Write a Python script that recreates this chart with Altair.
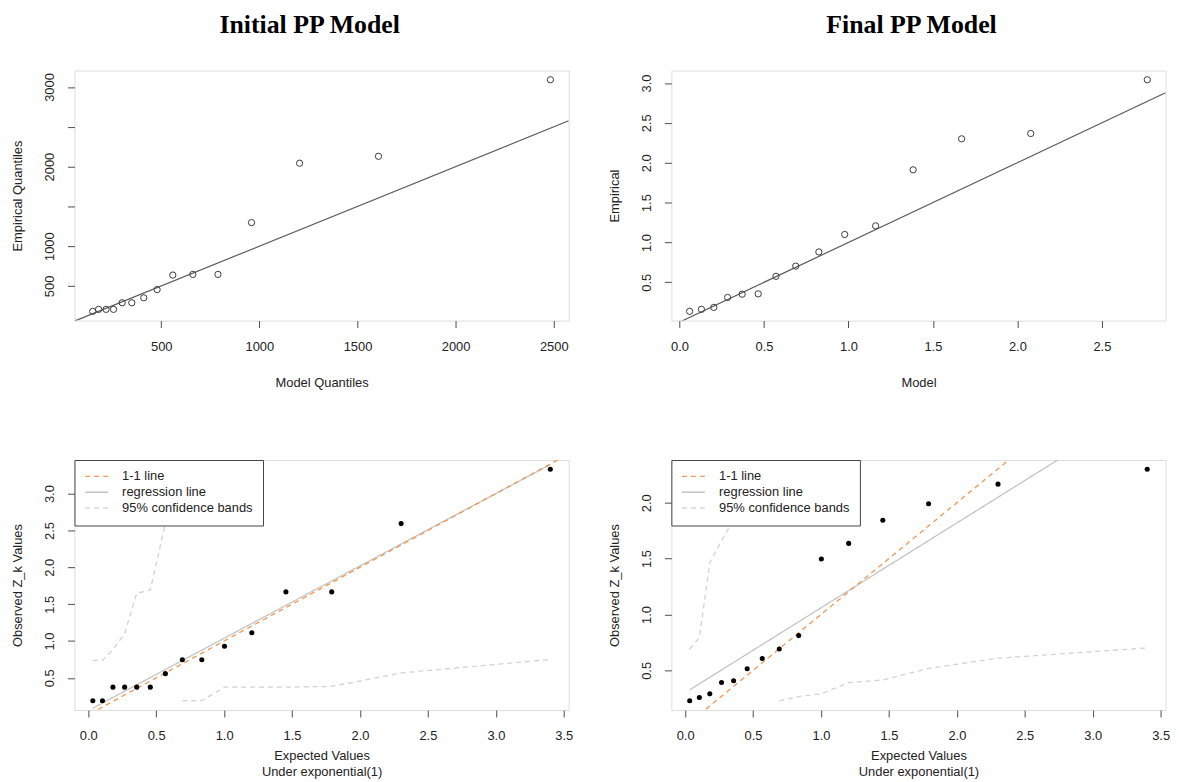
import altair as alt
import pandas as pd

FONT = "Liberation Sans"
SERIF = "Liberation Serif"
TXT = "#222222"
BOX = "#4d4d4d"

# ---------------- data ----------------
# Top-left: Initial PP model, QQ plot
tl_model = [151, 181, 219, 257, 301, 350, 411, 479, 559, 661, 789, 960, 1205, 1607, 2483]
tl_emp = [181, 206, 206, 206, 289, 289, 351, 454, 637, 645, 645, 1296, 2042, 2129, 3091]
tl_xdom = [58, 2576]
tl_ydom = [65, 3207]
tl_xticks = [500, 1000, 1500, 2000, 2500]
tl_yticks = [500, 1000, 1500, 2000, 2500, 3000]

# Top-right: Final PP model, QQ plot
tr_model = [0.060, 0.130, 0.203, 0.285, 0.371, 0.466, 0.571, 0.688, 0.825, 0.978, 1.161, 1.383, 1.670, 2.079, 2.769]
tr_emp = [0.136, 0.161, 0.185, 0.310, 0.351, 0.355, 0.575, 0.703, 0.881, 1.100, 1.208, 1.911, 2.300, 2.367, 3.041]
tr_xdom = [-0.048, 2.877]
tr_ydom = [0.020, 3.157]
tr_xticks = [0.0, 0.5, 1.0, 1.5, 2.0, 2.5]
tr_yticks = [0.5, 1.0, 1.5, 2.0, 2.5, 3.0]

# Bottom: expected values under exponential(1)
expected = [0.034, 0.105, 0.182, 0.268, 0.357, 0.457, 0.568, 0.693, 0.836, 1.003, 1.204, 1.455, 1.792, 2.303, 3.401]
bl_obs = [0.191, 0.191, 0.375, 0.375, 0.375, 0.375, 0.558, 0.746, 0.746, 0.929, 1.113, 1.667, 1.667, 2.593, 3.331]
br_obs = [0.228, 0.257, 0.290, 0.391, 0.408, 0.515, 0.607, 0.692, 0.811, 1.497, 1.636, 1.843, 1.991, 2.166, 2.299]
bl_upper = [0.737, 0.737, 0.885, 1.10, 1.65, 1.69, 2.60, 3.70]      # first values of expected
bl_lower = [0.191, 0.191, 0.375, 0.375, 0.375, 0.385, 0.567, 0.750]  # last values of expected
br_upper = [0.689, 0.793, 1.465, 1.66, 1.85, 2.10, 2.50]
br_lower = [0.228, 0.266, 0.290, 0.391, 0.414, 0.518, 0.609, 0.701]
bl_xdom = [-0.101, 3.536]
bl_ydom = [0.064, 3.456]
br_xdom = [-0.101, 3.536]
br_ydom = [0.145, 2.382]
b_xticks = [0.0, 0.5, 1.0, 1.5, 2.0, 2.5, 3.0, 3.5]
bl_yticks = [0.5, 1.0, 1.5, 2.0, 2.5, 3.0]
br_yticks = [0.5, 1.0, 1.5, 2.0]

SERIES = ["1-1 line", "regression line", "95% confidence bands"]
SERIES_COLORS = ["#F5964F", "#C4C4C4", "#D2D2D2"]
SERIES_DASH = [[5, 4], [1, 0], [5, 4]]

W, H = 498, 252


def x_axis(values, fmt, title, title_y):
    return alt.Axis(
        values=values, format=fmt, title=title, domain=False, grid=False,
        ticks=True, tickSize=7, tickColor=BOX, tickWidth=1,
        labelFont=FONT, labelFontSize=13, labelColor=TXT, labelPadding=23,
        labelBaseline="alphabetic", labelFlush=False, labelOverlap=False,
        titleFont=FONT, titleFontSize=13, titleFontWeight="normal", titleColor=TXT,
        titleY=title_y, titleBaseline="alphabetic", titleLineHeight=16,
    )


def y_axis(values, fmt, title, label_expr=None):
    kw = {}
    if label_expr is not None:
        kw["labelExpr"] = label_expr
    return alt.Axis(
        values=values, format=fmt, title=title, domain=False, grid=False,
        ticks=True, tickSize=7, tickColor=BOX, tickWidth=1,
        labelFont=FONT, labelFontSize=13, labelColor=TXT, labelPadding=14,
        labelAngle=270, labelAlign="center", labelBaseline="alphabetic",
        labelFlush=False, labelOverlap=False,
        titleFont=FONT, titleFontSize=13, titleFontWeight="normal", titleColor=TXT,
        titleAngle=270, titleAlign="center", titleBaseline="alphabetic", titleX=-53,
        **kw,
    )


def top_panel(xs, ys, xdom, ydom, xticks, yticks, xfmt, yfmt, xtitle, ytitle,
              title, dx, label_expr=None):
    pts = pd.DataFrame({"x": xs, "y": ys})
    ref = pd.DataFrame({"x": xdom, "y": xdom})
    xe = alt.X("x:Q", scale=alt.Scale(domain=xdom, nice=False, zero=False),
               axis=x_axis(xticks, xfmt, xtitle, 66))
    ye = alt.Y("y:Q", scale=alt.Scale(domain=ydom, nice=False, zero=False),
               axis=y_axis(yticks, yfmt, ytitle, label_expr))
    line = alt.Chart(ref).mark_line(color="#5a5a5a", strokeWidth=1.2, clip=True).encode(x=xe, y=ye)
    pnt = alt.Chart(pts).mark_point(shape="circle", filled=False, color="#3a3a3a",
                                    size=40, strokeWidth=1, opacity=1).encode(x=xe, y=ye)
    return alt.layer(line, pnt).properties(
        width=W, height=H,
        title=alt.TitleParams(title, font=SERIF, fontSize=26, fontWeight="bold",
                              color="black", anchor="middle", frame="group",
                              dx=dx, offset=12.2, baseline="alphabetic"),
    )


LEG = alt.Legend(
    title=None, orient="top-left", offset=0, padding=10, fillColor="white",
    strokeColor="#444444", symbolType="M-1,0H3", symbolSize=132,
    symbolStrokeWidth=1.3, labelFont=FONT, labelFontSize=13, labelColor=TXT,
    labelOffset=25, rowPadding=2, zindex=1,
)


def bottom_panel(obs, upper, lower, xdom, ydom, yticks):
    pts = pd.DataFrame({"x": expected, "y": obs})
    ref = pd.DataFrame({"x": xdom, "y": xdom, "series": SERIES[0], "part": "ref"})
    up = pd.DataFrame({"x": expected[:len(upper)], "y": upper, "series": SERIES[2], "part": "upper"})
    lo = pd.DataFrame({"x": expected[-len(lower):], "y": lower, "series": SERIES[2], "part": "lower"})
    lines = pd.concat([ref, up, lo], ignore_index=True)

    xe = alt.X("x:Q", scale=alt.Scale(domain=xdom, nice=False, zero=False),
               axis=x_axis(b_xticks, ".1f", ["Expected Values", "Under exponential(1)"], 49.5))
    ye = alt.Y("y:Q", scale=alt.Scale(domain=ydom, nice=False, zero=False),
               axis=y_axis(yticks, ".1f", "Observed Z_k Values"))
    color = alt.Color("series:N", scale=alt.Scale(domain=SERIES, range=SERIES_COLORS), legend=LEG)
    dash = alt.StrokeDash("series:N", scale=alt.Scale(domain=SERIES, range=SERIES_DASH), legend=LEG)

    reg = (alt.Chart(pts)
           .transform_regression("x", "y")
           .transform_calculate(series="'regression line'")
           .mark_line(strokeWidth=1.3, clip=True)
           .encode(x=xe, y=ye, color=color, strokeDash=dash))
    other = (alt.Chart(lines)
             .mark_line(strokeWidth=1.3, clip=True)
             .encode(x=xe, y=ye, color=color, strokeDash=dash, detail="part:N"))
    pnt = alt.Chart(pts).mark_point(shape="circle", filled=True, color="black",
                                    size=26, opacity=1).encode(x=xe, y=ye)
    return alt.layer(reg, other, pnt).properties(width=W, height=H)


tl = top_panel(tl_model, tl_emp, tl_xdom, tl_ydom, tl_xticks, tl_yticks, "d", "d",
               "Model Quantiles", "Empirical Quantiles", "Initial PP Model", -12,
               "datum.value == 1500 || datum.value == 2500 ? '' : datum.label")
tr = top_panel(tr_model, tr_emp, tr_xdom, tr_ydom, tr_xticks, tr_yticks, ".1f", ".1f",
               "Model", "Empirical", "Final PP Model", -7)
bl = bottom_panel(bl_obs, bl_upper, bl_lower, bl_xdom, bl_ydom, bl_yticks)
br = bottom_panel(br_obs, br_upper, br_lower, br_xdom, br_ydom, br_yticks)

chart = (
    alt.concat(tl, tr, bl, br, columns=2, spacing={"row": 69.5, "column": 34.5})
    .resolve_scale(x="independent", y="independent", color="independent", strokeDash="independent")
    .resolve_legend(color="independent", strokeDash="independent")
    .properties(padding={"left": 3, "top": 0, "right": 0, "bottom": 0})
    .configure_view(stroke=BOX, strokeWidth=1)
    .configure(background="white")
)

chart.save("out.html", embed_options={"renderer": "svg", "actions": False})
